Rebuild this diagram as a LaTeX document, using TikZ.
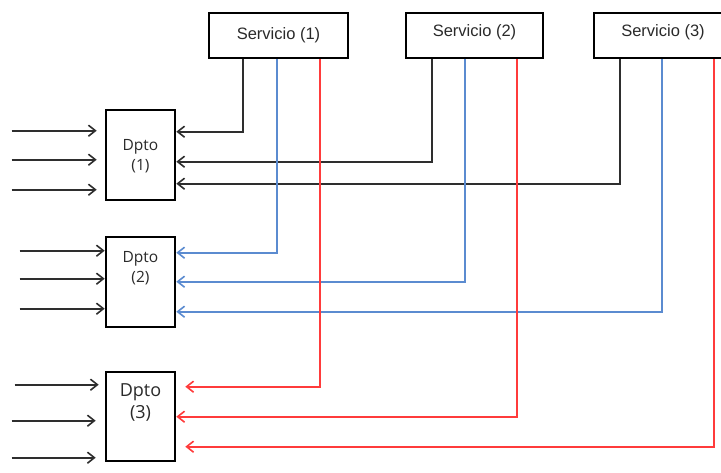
\documentclass[tikz,border=0pt]{standalone}
\usepackage{fontspec}
\setmainfont{Liberation Sans}
\newfontfamily\dptofont{Open Sans}
\usetikzlibrary{arrows.meta}
\definecolor{linkgray}{HTML}{2E2E2E}
\definecolor{linkblue}{HTML}{5B8BD0}
\definecolor{linkred}{HTML}{FF3B3B}
\definecolor{labelgray}{HTML}{2A2A2A}
\begin{document}
\begin{tikzpicture}[x=1pt,y=-1pt,
  box/.style={draw=black, line width=2.6pt, fill=white, inner sep=0pt},
  servbox/.style={box, minimum height=45pt},
  dptobox/.style={box, minimum width=69pt},
  servtext/.style={font=\fontsize{16.5}{19}\selectfont, inner sep=0pt, text=labelgray},
  dptotext/.style={font=\dptofont\fontsize{15.5}{19.5}\selectfont, align=center, inner sep=0pt, text=labelgray},
  link/.style={line width=1.6pt, -{Straight Barb[length=7pt,width=11pt]}},
  blk/.style={link, draw=linkgray},
  blu/.style={link, draw=linkblue},
  rd/.style={link, draw=linkred},
  feed/.style={link, draw=linkgray}
]
\useasboundingbox (0,0) rectangle (721,472);
\clip (0,0) rectangle (721,472);

% services along the top
\node[servbox, minimum width=139pt] (s1) at (278.5,35.5) {};
\node[servbox, minimum width=137pt] (s2) at (474.5,35.5) {};
\node[servbox, minimum width=138pt] (s3) at (663,35.5) {};
\node[servtext] (s1t) at (s1.center) {Servicio (1)};
\node[servtext] (s2t) at ([yshift=3.5pt]s2.center) {Servicio (2)};
\node[servtext] (s3t) at ([yshift=3.5pt]s3.center) {Servicio (3)};

% departments on the left
\node[dptobox, minimum height=90pt] (d1) at (140.5,155) {};
\node[dptobox, minimum height=90pt] (d2) at (140.5,282) {};
\node[dptobox, minimum height=89pt] (d3) at (140.5,416.5) {};
\node[dptotext] (d1t) at ([yshift=-1pt]d1.center) {Dpto\\(1)};
\node[dptotext] (d2t) at ([yshift=-32.5pt]d2.north) {Dpto\\(2)};
\node[dptotext, font=\dptofont\fontsize{18}{21.5}\selectfont] (d3t) at ([yshift=-32pt]d3.north) {Dpto\\(3)};

% inputs entering each department
\foreach \o in {22,51,81}
  \draw[feed] ([xshift=-93pt,yshift=-\o pt]d1.north west) -- ([xshift=-8pt,yshift=-\o pt]d1.north west);
\foreach \o in {15,43,73}
  \draw[feed] ([xshift=-85pt,yshift=-\o pt]d2.north west) -- ([yshift=-\o pt]d2.north west);
\draw[feed] ([xshift=-90pt,yshift=-14pt]d3.north west) -- ([xshift=-6pt,yshift=-14pt]d3.north west);
\foreach \o in {50,87}
  \draw[feed] ([xshift=-93pt,yshift=-\o pt]d3.north west) -- ([xshift=-9pt,yshift=-\o pt]d3.north west);

% black links: every service to department 1
\draw[blk] ([xshift=35pt]s1.south west) |- ([yshift=-23pt]d1.north east);
\draw[blk] ([xshift=27pt]s2.south west) |- ([yshift=-53pt]d1.north east);
\draw[blk] ([xshift=27pt]s3.south west) |- ([yshift=-75pt]d1.north east);

% blue links: every service to department 2
\draw[blu] ([xshift=69pt]s1.south west) |- ([yshift=-17pt]d2.north east);
\draw[blu] ([xshift=60pt]s2.south west) |- ([yshift=-46pt]d2.north east);
\draw[blu] ([xshift=69pt]s3.south west) |- ([yshift=-76pt]d2.north east);

% red links: every service to department 3
\draw[rd] ([xshift=112pt]s1.south west) |- ([xshift=9pt,yshift=-16pt]d3.north east);
\draw[rd] ([xshift=112pt]s2.south west) |- ([yshift=-46pt]d3.north east);
\draw[rd] ([xshift=121pt]s3.south west) |- ([xshift=9pt,yshift=-76pt]d3.north east);
\end{tikzpicture}
\end{document}
